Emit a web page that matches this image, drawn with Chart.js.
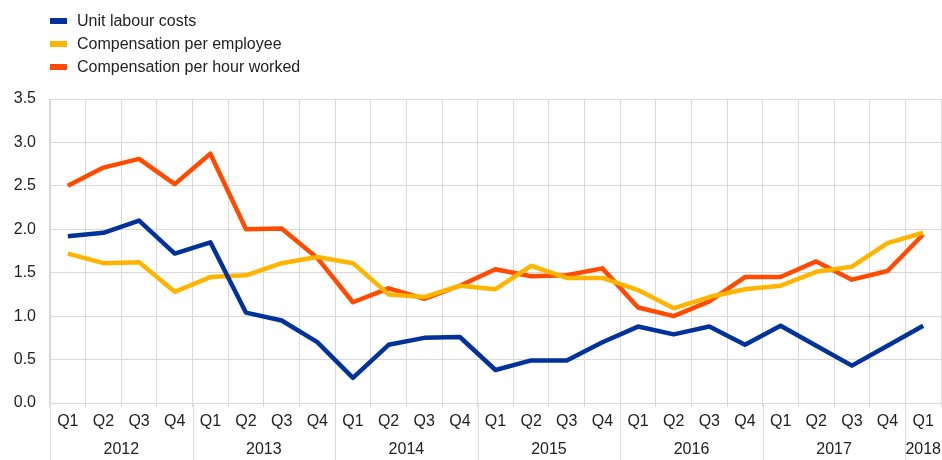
<!DOCTYPE html>
<html>
<head>
<meta charset="utf-8">
<script src="https://cdn.jsdelivr.net/npm/chart.js@4/dist/chart.umd.min.js"></script>
<style>
  html, body { margin: 0; padding: 0; background: #fff; }
  #wrap { position: relative; width: 942px; height: 460px; }
  #legend { position: absolute; left: 50px; top: 9px; font: 16px "Liberation Sans", Arial, sans-serif; color: #222; }
  .item { height: 23px; line-height: 23px; white-space: nowrap; }
  .sw { display: inline-block; width: 17px; height: 6px; vertical-align: middle; margin-right: 10px; position: relative; top: -1px; }
</style>
</head>
<body>
<div id="wrap">
  <canvas id="myChart" width="942" height="460"></canvas>
  <div id="legend"></div>
</div>
<script>
// --------------------
// Data
// --------------------
const quarters = [
  "Q1", "Q2", "Q3", "Q4", "Q1", "Q2", "Q3", "Q4", "Q1", "Q2", "Q3", "Q4",
  "Q1", "Q2", "Q3", "Q4", "Q1", "Q2", "Q3", "Q4", "Q1", "Q2", "Q3", "Q4", "Q1"
];
const years = ["2012", "2013", "2014", "2015", "2016", "2017", "2018"];

const unitLabourCosts = [
  1.92, 1.96, 2.10, 1.72, 1.85, 1.04, 0.95, 0.70, 0.29, 0.67, 0.75, 0.76,
  0.38, 0.49, 0.49, 0.70, 0.88, 0.79, 0.88, 0.67, 0.89, 0.66, 0.43, 0.66, 0.89
];
const compPerEmployee = [
  1.72, 1.61, 1.62, 1.28, 1.45, 1.47, 1.61, 1.68, 1.61, 1.25, 1.22, 1.35,
  1.31, 1.58, 1.44, 1.44, 1.30, 1.09, 1.22, 1.31, 1.35, 1.51, 1.57, 1.84, 1.96
];
const compPerHour = [
  2.50, 2.71, 2.81, 2.52, 2.87, 2.00, 2.01, 1.67, 1.16, 1.32, 1.20, 1.35,
  1.54, 1.46, 1.47, 1.55, 1.10, 1.00, 1.17, 1.45, 1.45, 1.63, 1.42, 1.52, 1.94
];

const seriesNames = ["Unit labour costs", "Compensation per employee", "Compensation per hour worked"];
const seriesColors = ["#003299", "#FFB400", "#FF4B00"];

const gridColor = "#d9d9d9";
const textColor = "#222";
const fontFamily = "'Liberation Sans', Arial, sans-serif";

// --------------------
// Year labels + separators under the quarter axis
// --------------------
const yearAxisPlugin = {
  id: "yearAxis",
  afterDraw(chart) {
    const ctx = chart.ctx;
    const x = chart.scales.x;
    const area = chart.chartArea;
    const bottom = chart.height;
    const half = (x.getPixelForValue(1) - x.getPixelForValue(0)) / 2;

    ctx.save();
    ctx.strokeStyle = gridColor;
    ctx.lineWidth = 1;
    ctx.fillStyle = textColor;
    ctx.font = "16px " + fontFamily;
    ctx.textAlign = "center";
    ctx.textBaseline = "middle";

    years.forEach((yr, i) => {
      const first = i * 4;
      const last = Math.min(first + 3, quarters.length - 1);
      const left = Math.round(x.getPixelForValue(first) - half) + 0.5;
      ctx.beginPath();
      ctx.moveTo(left, area.bottom);
      ctx.lineTo(left, bottom);
      ctx.stroke();

      const center = (x.getPixelForValue(first) + x.getPixelForValue(last)) / 2;
      ctx.fillText(yr, center, area.bottom + 47);
    });
    ctx.restore();
  }
};

// --------------------
// Build Chart
// --------------------
const datasets = [unitLabourCosts, compPerEmployee, compPerHour].map((vals, i) => ({
  label: seriesNames[i],
  data: vals,
  borderColor: seriesColors[i],
  backgroundColor: seriesColors[i],
  borderWidth: 4.5,
  pointRadius: 0,
  tension: 0,
  borderJoinStyle: "round",
  order: i
}));

const ctx = document.getElementById("myChart").getContext("2d");

new Chart(ctx, {
  type: "line",
  data: { labels: quarters, datasets: datasets },
  options: {
    responsive: false,
    animation: false,
    layout: { padding: { top: 99, right: 1, left: 0, bottom: 0 } },
    scales: {
      x: {
        offset: true,
        grid: { offset: true, color: gridColor, tickLength: 4, drawTicks: true },
        border: { color: gridColor },
        ticks: {
          color: textColor,
          font: { size: 16, family: fontFamily },
          padding: 5,
          maxRotation: 0,
          autoSkip: false
        },
        afterFit(scale) { scale.height = 57; }
      },
      y: {
        min: 0,
        max: 3.5,
        ticks: {
          stepSize: 0.5,
          color: textColor,
          font: { size: 16, family: fontFamily },
          padding: 14,
          callback: (v) => Number(v).toFixed(1)
        },
        grid: { color: gridColor, drawTicks: false },
        border: { color: gridColor },
        afterFit(scale) { scale.width = 50; }
      }
    },
    plugins: {
      legend: { display: false },
      tooltip: { enabled: false }
    }
  },
  plugins: [yearAxisPlugin]
});

// HTML legend built from the series lists
const legendEl = document.getElementById("legend");
seriesNames.forEach((name, i) => {
  const row = document.createElement("div");
  row.className = "item";
  row.innerHTML = '<span class="sw" style="background:' + seriesColors[i] + '"></span>' + name;
  legendEl.appendChild(row);
});
</script>
</body>
</html>
